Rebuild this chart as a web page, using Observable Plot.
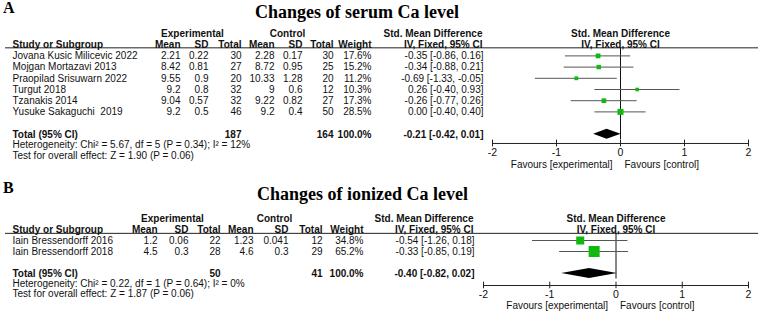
<!DOCTYPE html>
<html><head><meta charset="utf-8">
<script src="https://cdn.jsdelivr.net/npm/d3@7"></script>
<script src="https://cdn.jsdelivr.net/npm/@observablehq/plot@0.6"></script>
<style>
body{margin:0;background:#fff;}
#wrap{position:relative;width:760px;height:312px;overflow:hidden;background:#fff;}
.lab{position:absolute;font-family:"Liberation Serif","Times New Roman",serif;font-weight:bold;color:#000;line-height:1;white-space:nowrap;}
svg text{white-space:pre;}
</style></head><body>
<div id="wrap">
<div id="pa" style="position:absolute;left:0;top:0"></div>
<div id="pb" style="position:absolute;left:0;top:172px"></div>
<div class="lab" style="left:3px;top:0px;font-size:16px">A</div>
<div class="lab" style="left:255px;top:3px;font-size:18px">Changes of serum Ca level</div>
<div class="lab" style="left:3px;top:180px;font-size:16px">B</div>
<div class="lab" style="left:257px;top:185px;font-size:18px">Changes of ionized Ca level</div>
</div>
<script>
// ---------- Panel A data ----------
const studiesA = ["Jovana Kusic Milicevic 2022", "Mojgan Mortazavi 2013", "Praopilad Srisuwarn 2022", "Turgut 2018", "Tzanakis 2014", "Yusuke Sakaguchi  2019"];
const expMeanA = [2.21, 8.42, 9.55, 9.2, 9.04, 9.2];
const expSdA = [0.22, 0.81, 0.9, 0.8, 0.57, 0.5];
const expNA = [30, 27, 20, 32, 32, 46];
const ctlMeanA = [2.28, 8.72, 10.33, 9, 9.22, 9.2];
const ctlSdA = [0.17, 0.95, 1.28, 0.6, 0.82, 0.4];
const ctlNA = [30, 25, 20, 12, 27, 50];
const weightA = [17.6, 15.2, 11.2, 10.3, 17.3, 28.5];
const smdA = [-0.35, -0.34, -0.69, 0.26, -0.26, 0.00];
const loA = [-0.86, -0.88, -1.33, -0.40, -0.77, -0.40];
const hiA = [0.16, 0.21, -0.05, 0.93, 0.26, 0.40];
const totalA = {expN: 187, ctlN: 164, weight: 100.0, smd: -0.21, lo: -0.42, hi: 0.01};
const hetA = "Heterogeneity: Chi\u00B2 = 5.67, df = 5 (P = 0.34); I\u00B2 = 12%";
const testA = "Test for overall effect: Z = 1.90 (P = 0.06)";

// ---------- Panel B data ----------
const studiesB = ["Iain Bressendorff 2016", "Iain Bressendorff 2018"];
const expMeanB = [1.2, 4.5];
const expSdB = [0.06, 0.3];
const expNB = [22, 28];
const ctlMeanB = [1.23, 4.6];
const ctlSdB = [0.041, 0.3];
const ctlNB = [12, 29];
const weightB = [34.8, 65.2];
const smdB = [-0.54, -0.33];
const loB = [-1.26, -0.85];
const hiB = [0.18, 0.19];
const totalB = {expN: 50, ctlN: 41, weight: 100.0, smd: -0.40, lo: -0.82, hi: 0.02};
const hetB = "Heterogeneity: Chi\u00B2 = 0.22, df = 1 (P = 0.64); I\u00B2 = 0%";
const testB = "Test for overall effect: Z = 1.87 (P = 0.06)";

// ---------- shared labels ----------
const groupHeads = ["Experimental", "Control"];
const effectHead = "Std. Mean Difference";
const methodHead = "IV, Fixed, 95% CI";
const colHeads = ["Study or Subgroup", "Mean", "SD", "Total", "Mean", "SD", "Total", "Weight"];
const totalLabel = "Total (95% CI)";
const xTicks = [-2, -1, 0, 1, 2];
const favours = ["Favours [experimental]", "Favours [control]"];

const GREEN = "#10b810";
const fmtCI = (e, l, h) => `${e.toFixed(2)} [${l.toFixed(2)}, ${h.toFixed(2)}]`;

function forest(d, lay) {
  const rows = d.studies.map((s, i) => ({
    study: s, expMean: d.expMean[i], expSD: d.expSd[i], expN: d.expN[i],
    ctlMean: d.ctlMean[i], ctlSD: d.ctlSd[i], ctlN: d.ctlN[i],
    weight: d.weight[i], smd: d.smd[i], lo: d.lo[i], hi: d.hi[i],
    line: lay.first + i
  }));
  const c = lay.cols;
  const T = (data, o) => Plot.text(data, {frameAnchor: "left", fill: "#111", fontSize: 10, ...o});
  const marks = [];
  marks.push(Plot.ruleY([lay.rule], {y: v => v, insetLeft: 5, insetRight: 2, stroke: "#222", strokeWidth: 1}));
  marks.push(T([groupHeads[0]], {y: () => lay.h1, text: v => v, dx: c.expHead, textAnchor: "middle", fontWeight: "bold"}));
  marks.push(T([groupHeads[1]], {y: () => lay.h1, text: v => v, dx: c.ctlHead, textAnchor: "middle", fontWeight: "bold"}));
  marks.push(T([effectHead], {y: () => lay.h1, text: v => v, dx: c.ci - 1, textAnchor: "end", fontWeight: "bold"}));
  marks.push(T([methodHead], {y: () => lay.h2, text: v => v, dx: c.ci - 1, textAnchor: "end", fontWeight: "bold"}));
  const keys = ["study", "expMean", "expSD", "expN", "ctlMean", "ctlSD", "ctlN", "weight"];
  keys.forEach((k, i) => {
    marks.push(T([colHeads[i]], {y: () => lay.h2, text: v => v, dx: c[k], textAnchor: i === 0 ? "start" : "end", fontWeight: "bold"}));
  });
  marks.push(Plot.text([effectHead], {x: () => 0, y: () => lay.h1, text: v => v, fontWeight: "bold", fill: "#111", fontSize: 10}));
  marks.push(Plot.text([methodHead], {x: () => 0, y: () => lay.h2, text: v => v, fontWeight: "bold", fill: "#111", fontSize: 10}));
  marks.push(T(rows, {y: "line", text: "study", dx: c.study, textAnchor: "start"}));
  ["expMean", "expSD", "expN", "ctlMean", "ctlSD", "ctlN"].forEach(k => {
    marks.push(T(rows, {y: "line", text: r => String(r[k]), dx: c[k], textAnchor: "end"}));
  });
  marks.push(T(rows, {y: "line", text: r => r.weight.toFixed(1) + "%", dx: c.weight, textAnchor: "end"}));
  marks.push(T(rows, {y: "line", text: r => fmtCI(r.smd, r.lo, r.hi), dx: c.ci, textAnchor: "end"}));
  const tot = [{...d.total, line: lay.total}];
  marks.push(T(tot, {y: "line", text: () => totalLabel, dx: c.study, textAnchor: "start", fontWeight: "bold"}));
  marks.push(T(tot, {y: "line", text: r => String(r.expN), dx: c.expN, textAnchor: "end", fontWeight: "bold"}));
  marks.push(T(tot, {y: "line", text: r => String(r.ctlN), dx: c.ctlN, textAnchor: "end", fontWeight: "bold"}));
  marks.push(T(tot, {y: "line", text: r => r.weight.toFixed(1) + "%", dx: c.weight, textAnchor: "end", fontWeight: "bold"}));
  marks.push(T(tot, {y: "line", text: r => fmtCI(r.smd, r.lo, r.hi), dx: c.ci, textAnchor: "end", fontWeight: "bold"}));
  marks.push(T([d.het], {y: () => lay.het, text: v => v, dx: c.study, textAnchor: "start"}));
  marks.push(T([d.test], {y: () => lay.test, text: v => v, dx: c.study, textAnchor: "start"}));
  marks.push(Plot.ruleX([0], {x: v => v, y1: lay.rule, y2: lay.total + 0.5, stroke: "#111", strokeWidth: 1}));
  marks.push(Plot.ruleY(rows, {y: "line", x1: "lo", x2: "hi", stroke: "#555", strokeWidth: 1}));
  marks.push(Plot.dot(rows, {x: "smd", y: "line", r: "weight", symbol: "square", fill: GREEN, stroke: "none"}));
  const t = d.total;
  const dia = [
    {y: lay.total - lay.dh, x1: t.smd, x2: t.smd},
    {y: lay.total, x1: t.lo, x2: t.hi},
    {y: lay.total + lay.dh, x1: t.smd, x2: t.smd}
  ];
  marks.push(Plot.areaX(dia, {y: "y", x1: "x1", x2: "x2", fill: "#000"}));
  marks.push(Plot.ruleY([lay.axis], {y: v => v, x1: d3.min(xTicks), x2: d3.max(xTicks), stroke: "#222"}));
  marks.push(Plot.ruleX(xTicks, {x: v => v, y1: lay.axis - lay.tick, y2: lay.axis + lay.tick, stroke: "#222"}));
  marks.push(Plot.text(xTicks, {x: v => v, y: () => lay.tickLab, text: v => String(v), fontSize: 10.5, fill: "#111"}));
  marks.push(Plot.text([favours[0]], {x: () => 0, y: () => lay.fav, text: v => v, textAnchor: "end", dx: -8, fontSize: 10, fill: "#111"}));
  marks.push(Plot.text([favours[1]], {x: () => 0, y: () => lay.fav, text: v => v, textAnchor: "start", dx: 4, fontSize: 10, fill: "#111"}));

  return Plot.plot({
    width: 760, height: lay.height,
    marginLeft: 0, marginRight: 0, marginTop: 0, marginBottom: 0,
    x: {domain: [d3.min(xTicks), d3.max(xTicks)], range: lay.xRange, axis: null},
    y: {domain: [0, 10], range: [lay.y0, lay.y0 + 10 * lay.step], axis: null},
    r: {domain: [0, d3.max(d.weight)], range: [0, lay.rMax]},
    style: {fontFamily: '"Liberation Sans", Arial, sans-serif', fontSize: "10px", background: "transparent", color: "#111", overflow: "visible"},
    marks
  });
}

const layA = {
  height: 172, y0: 33, step: 11.2, xRange: [492, 748],
  h1: 0, h2: 1, rule: 1.28, first: 2, total: 9, het: 9.95, test: 10.9,
  axis: 9.82, tick: 0.3, tickLab: 10.68, fav: 11.68, dh: 0.45, rMax: 3.4,
  cols: {study: 12, expMean: 180, expSD: 208, expN: 241, ctlMean: 274, ctlSD: 302, ctlN: 333, weight: 371, ci: 483, expHead: 192, ctlHead: 287}
};
const layB = {
  height: 140, y0: 46, step: 11, xRange: [483, 748],
  h1: 0, h2: 1, rule: 1.35, first: 2, total: 5, het: 5.9, test: 6.8,
  axis: 6.09, tick: 0.3, tickLab: 6.88, fav: 7.9, dh: 0.45, rMax: 6.2,
  cols: {study: 12, expMean: 157, expSD: 188, expN: 220, ctlMean: 253, ctlSD: 288, ctlN: 322, weight: 363, ci: 474, expHead: 172, ctlHead: 274}
};

document.getElementById("pa").append(forest({
  studies: studiesA, expMean: expMeanA, expSd: expSdA, expN: expNA, ctlMean: ctlMeanA, ctlSd: ctlSdA, ctlN: ctlNA,
  weight: weightA, smd: smdA, lo: loA, hi: hiA, total: totalA, het: hetA, test: testA
}, layA));
document.getElementById("pb").append(forest({
  studies: studiesB, expMean: expMeanB, expSd: expSdB, expN: expNB, ctlMean: ctlMeanB, ctlSd: ctlSdB, ctlN: ctlNB,
  weight: weightB, smd: smdB, lo: loB, hi: hiB, total: totalB, het: hetB, test: testB
}, layB));
</script>
</body></html>
